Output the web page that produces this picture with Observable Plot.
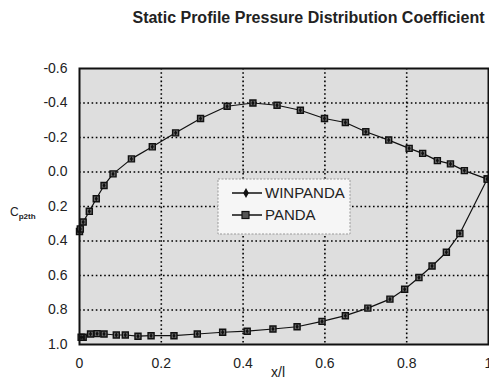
<!DOCTYPE html>
<html>
<head>
<meta charset="utf-8">
<script src="https://cdn.jsdelivr.net/npm/d3@7"></script>
<script src="https://cdn.jsdelivr.net/npm/@observablehq/plot@0.6"></script>
<style>
  body { margin: 0; background: #fff; font-family: "Liberation Sans", Arial, sans-serif; }
  #wrap { width: 489px; height: 381px; position: relative; overflow: hidden; }
  #title { height: 36px; line-height: 36px; font-weight: bold; font-size: 16px; color: #222;
           text-align: center; padding-left: 128px; width: 361px; white-space: nowrap; }
</style>
</head>
<body>
<div id="wrap">
  <div id="title">Static Profile Pressure Distribution Coefficient</div>
  <div id="chart"></div>
</div>
<script>
const seriesNames = ["WINPANDA", "PANDA"];
const xTicks = [0, 0.2, 0.4, 0.6, 0.8, 1];
const yTicks = [-0.6, -0.4, -0.2, 0.0, 0.2, 0.4, 0.6, 0.8, 1.0];

// suction side (x/l from leading edge to trailing edge)
const upperX  = [0.000, 0.002, 0.009, 0.024, 0.041, 0.060, 0.082, 0.127, 0.178, 0.235, 0.296, 0.361, 0.424, 0.483, 0.540, 0.599, 0.650, 0.700, 0.756, 0.806, 0.839, 0.875, 0.907, 0.941, 0.997];
const upperCp = [0.345, 0.330, 0.290, 0.228, 0.155, 0.078, 0.011, -0.076, -0.146, -0.227, -0.310, -0.381, -0.400, -0.387, -0.358, -0.310, -0.287, -0.233, -0.185, -0.137, -0.108, -0.066, -0.047, -0.008, 0.041];
// pressure side (x/l from trailing edge back to leading edge)
const lowerX  = [0.997, 0.930, 0.897, 0.862, 0.830, 0.795, 0.759, 0.705, 0.650, 0.593, 0.532, 0.473, 0.410, 0.350, 0.288, 0.231, 0.175, 0.143, 0.112, 0.090, 0.060, 0.043, 0.027, 0.009, 0.004];
const lowerCp = [0.041, 0.357, 0.465, 0.545, 0.612, 0.680, 0.737, 0.789, 0.833, 0.866, 0.897, 0.910, 0.923, 0.929, 0.939, 0.949, 0.949, 0.952, 0.945, 0.945, 0.939, 0.937, 0.939, 0.958, 0.958];

const profile = [
  ...upperX.map((x, i) => ({x, cp: upperCp[i]})),
  ...lowerX.map((x, i) => ({x, cp: lowerCp[i]}))
];

const W = 489, H = 345;
const plot = Plot.plot({
  width: W, height: H,
  marginLeft: 79, marginRight: 1, marginTop: 32, marginBottom: 37,
  style: { fontFamily: "Liberation Sans, Arial, sans-serif", fontSize: "14px", color: "#222", background: "transparent" },
  x: { domain: [0, 1], ticks: xTicks, tickFormat: d => String(d), tickSize: 0, tickPadding: 14, label: null },
  y: { domain: [-0.6, 1.0], reverse: true, ticks: yTicks, tickFormat: d => d.toFixed(1), tickSize: 0, tickPadding: 12, label: null },
  marks: [
    Plot.frame({ fill: "#dedede", stroke: null }),
    Plot.gridX(xTicks.slice(1, -1), { stroke: "#000", strokeOpacity: 1, strokeWidth: 1.6, strokeDasharray: "1.6,2.6" }),
    Plot.gridY(yTicks.slice(1, -1), { stroke: "#000", strokeOpacity: 1, strokeWidth: 1.6, strokeDasharray: "1.6,2.6" }),
    Plot.line(profile, { x: "x", y: "cp", stroke: "#111", strokeWidth: 1.2 }),
    Plot.dot(profile, { x: "x", y: "cp", symbol: "square", r: 3.4, fill: "#666", stroke: "#111", strokeWidth: 1.4 }),
    Plot.dot(profile, { x: "x", y: "cp", symbol: "diamond", r: 1.6, fill: "#111" }),
    Plot.frame({ stroke: "#111", strokeWidth: 2 })
  ]
});
document.getElementById("chart").appendChild(plot);

const svg = d3.select(plot);
// y axis label with subscript
const yl = svg.append("text").attr("x", 10).attr("y", 180).attr("text-anchor", "start")
  .attr("font-size", 12).attr("fill", "#222");
yl.append("tspan").text("C");
yl.append("tspan").attr("font-size", 8).attr("font-weight", "bold").attr("dy", 3).text("p2th");
// x axis label
svg.append("text").attr("x", 278).attr("y", 341).attr("text-anchor", "middle")
  .attr("font-size", 14).attr("fill", "#222").text("x/l");

// legend
const lg = svg.append("g").attr("text-anchor", "start");
lg.append("rect").attr("x", 218).attr("y", 143).attr("width", 132).attr("height", 55)
  .attr("fill", "#f6f6f6").attr("stroke", "#999").attr("stroke-width", 1).attr("stroke-dasharray", "2,1.5");
const rows = [157, 179];
seriesNames.forEach((name, i) => {
  const y = rows[i];
  lg.append("line").attr("x1", 232).attr("x2", 262).attr("y1", y).attr("y2", y)
    .attr("stroke", "#111").attr("stroke-width", 1.5);
  if (i === 0) {
    lg.append("path").attr("d", d3.symbol(d3.symbolDiamond, 28)()).attr("transform", `translate(246,${y})`).attr("fill", "#111");
  } else {
    lg.append("rect").attr("x", 242).attr("y", y - 3.5).attr("width", 7).attr("height", 7)
      .attr("fill", "#555").attr("stroke", "#111").attr("stroke-width", 1.2);
  }
  lg.append("text").attr("x", 265).attr("y", y).attr("dy", "0.36em").attr("text-anchor", "start")
    .attr("font-size", 15).attr("fill", "#222").text(name);
});
</script>
</body>
</html>
